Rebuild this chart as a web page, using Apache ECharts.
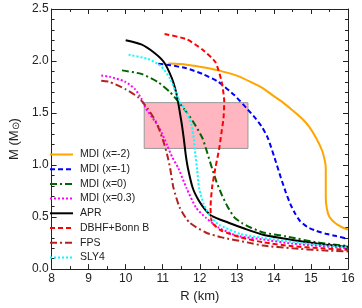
<!DOCTYPE html>
<html><head><meta charset="utf-8">
<script src="https://cdn.jsdelivr.net/npm/echarts@6/dist/echarts.min.js"></script>
<style>html,body{margin:0;padding:0;background:#fff}#c{width:362px;height:308px}</style>
</head><body><div id="c"></div>
<script>
var seriesNames = ['MDI (x=-2)','MDI (x=-1)','MDI (x=0)','MDI (x=0.3)','APR','DBHF+Bonn B','FPS','SLY4'];
var mdiM2 = [[11.15,1.975],[11.64,1.965],[12.0,1.945],[12.5,1.91],[13.0,1.86],[13.37,1.80],[13.7,1.74],[13.97,1.67],[14.25,1.60],[14.49,1.53],[14.75,1.45],[14.95,1.37],[15.14,1.26],[15.3,1.14],[15.37,1.05],[15.40,0.97],[15.40,0.82],[15.40,0.69],[15.43,0.58],[15.5,0.50],[15.66,0.44],[15.85,0.40],[16.0,0.38]];
var mdiM1 = [[10.88,1.975],[11.2,1.96],[11.64,1.93],[12.07,1.876],[12.5,1.80],[12.94,1.67],[13.28,1.54],[13.5,1.45],[13.67,1.37],[13.84,1.257],[14.02,1.067],[14.19,0.876],[14.32,0.74],[14.45,0.62],[14.58,0.53],[14.71,0.46],[14.9,0.405],[15.14,0.368],[15.4,0.34],[15.66,0.32],[16.0,0.29]];
var mdi0 = [[9.9,1.91],[10.42,1.876],[10.86,1.80],[11.2,1.70],[11.42,1.61],[11.64,1.51],[11.85,1.40],[12.07,1.26],[12.2,1.12],[12.33,0.97],[12.45,0.84],[12.59,0.717],[12.75,0.60],[12.94,0.495],[13.15,0.44],[13.37,0.40],[13.71,0.352],[14.32,0.315],[15.19,0.255],[16.0,0.222]];
var mdi03 = [[9.34,1.86],[9.56,1.85],[9.99,1.80],[10.25,1.73],[10.42,1.64],[10.55,1.54],[10.73,1.45],[10.92,1.35],[11.12,1.19],[11.25,1.08],[11.42,0.97],[11.64,0.78],[11.9,0.59],[12.16,0.495],[12.5,0.40],[13.02,0.32],[13.71,0.285],[14.5,0.245],[16.0,0.2]];
var apr = [[10.0,2.2],[10.42,2.16],[10.77,2.08],[11.03,1.99],[11.25,1.83],[11.38,1.67],[11.46,1.51],[11.52,1.38],[11.57,1.25],[11.62,1.10],[11.68,0.97],[11.81,0.78],[11.98,0.654],[12.15,0.57],[12.33,0.51],[12.76,0.448],[13.2,0.39],[13.71,0.33],[14.5,0.28],[15.3,0.24],[16.0,0.215]];
var dbhf = [[11.05,2.26],[11.64,2.21],[12.07,2.11],[12.42,1.99],[12.59,1.80],[12.66,1.61],[12.64,1.45],[12.58,1.30],[12.52,1.15],[12.42,0.97],[12.33,0.78],[12.29,0.59],[12.33,0.448],[12.59,0.368],[13.11,0.305],[13.71,0.257],[14.5,0.22],[15.3,0.2],[16.0,0.185]];
var fps = [[9.34,1.81],[9.56,1.80],[9.99,1.73],[10.34,1.65],[10.6,1.54],[10.81,1.42],[10.95,1.30],[11.05,1.19],[11.12,1.10],[11.2,0.97],[11.29,0.78],[11.46,0.59],[11.72,0.448],[12.16,0.352],[12.59,0.305],[13.28,0.257],[13.71,0.226],[14.5,0.2],[15.3,0.18],[16.0,0.17]];
var sly4 = [[10.08,2.06],[10.6,2.02],[10.94,1.955],[11.2,1.83],[11.42,1.64],[11.64,1.51],[11.78,1.38],[11.84,1.25],[11.88,1.10],[11.93,0.95],[11.98,0.78],[12.11,0.622],[12.3,0.50],[12.5,0.43],[13.11,0.336],[13.71,0.3],[14.5,0.26],[15.3,0.23],[16.0,0.21]];
var boxR = [10.5, 13.3];
var boxM = [1.16, 1.6];
var xTicks = [8,9,10,11,12,13,14,15,16];
var yTicks = [0.0,0.5,1.0,1.5,2.0,2.5];

var colors = ['#FFA500','#0000FF','#006400','#FF00FF','#000000','#FF0000','#B22222','#00FFFF'];
var types = ['solid',[5,3],[7,3,2,3],[2,2],'solid',[5,3],[7,3,2,3],[2,2]];
var datas = [mdiM2,mdiM1,mdi0,mdi03,apr,dbhf,fps,sly4];

var chart = echarts.init(document.getElementById('c'));
var series = [{
  type:'line', data:[], silent:true, z:1,
  markArea:{silent:true, itemStyle:{color:'#FFB6C1', borderColor:'#999999', borderWidth:1, opacity:1},
    data:[[{coord:[boxR[0],boxM[1]]},{coord:[boxR[1],boxM[0]]}]]}
}];
for (var i=0;i<datas.length;i++){
  series.push({name:seriesNames[i], type:'line', data:datas[i], symbol:'none', smooth:0.2, z:3+i,
    lineStyle:{color:colors[i], width:2, type:types[i]}, itemStyle:{color:colors[i]}});
}
function axisX(pos, show){
  return {type:'value', position:pos, min:xTicks[0], max:xTicks[xTicks.length-1], interval:1,
    axisLine:{show:true, onZero:false, lineStyle:{color:'#222', width:1}},
    axisTick:{show:true, inside:true, length:5, lineStyle:{color:'#222'}},
    minorTick:{show:true, splitNumber:2, length:3, lineStyle:{color:'#222'}},
    splitLine:{show:false},
    axisLabel:{show:show, color:'#222', fontSize:12, fontFamily:'Liberation Sans, Arial', margin:4},
    name: show ? 'R (km)' : '', nameLocation:'middle', nameGap:12,
    nameTextStyle:{color:'#222', fontSize:13, fontFamily:'Liberation Sans, Arial', verticalAlign:'top'}};
}
function axisY(pos, show){
  return {type:'value', position:pos, min:yTicks[0], max:yTicks[yTicks.length-1], interval:0.5,
    axisLine:{show:true, onZero:false, lineStyle:{color:'#222', width:1}},
    axisTick:{show:true, inside:true, length:5, lineStyle:{color:'#222'}},
    minorTick:{show:true, splitNumber:5, length:3, lineStyle:{color:'#222'}},
    splitLine:{show:false},
    axisLabel:{show:show, color:'#222', fontSize:12, fontFamily:'Liberation Sans, Arial', margin:3,
      formatter:function(v){return v.toFixed(1);}},
    name: show ? 'M (M{s|⊙})' : '', nameLocation:'middle', nameGap:24, nameRotate:90,
    nameTextStyle:{color:'#222', fontSize:13, fontFamily:'Liberation Sans, Arial',
      rich:{s:{fontSize:10, verticalAlign:'bottom', color:'#222'}}}};
}
chart.setOption({
  animation:false,
  backgroundColor:'#fff',
  grid:{left:40, right:14, top:9, bottom:36},
  legend:{orient:'vertical', left:44, top:144, itemWidth:23, itemHeight:10, itemGap:3.7,
    itemStyle:{opacity:0},
    data:seriesNames, textStyle:{fontSize:10.5, color:'#222', fontFamily:'Liberation Sans, Arial', padding:[0,0,0,2]}},
  xAxis:[axisX('bottom',true), axisX('top',false)],
  yAxis:[axisY('left',true), axisY('right',false)],
  series:series
});
</script></body></html>
